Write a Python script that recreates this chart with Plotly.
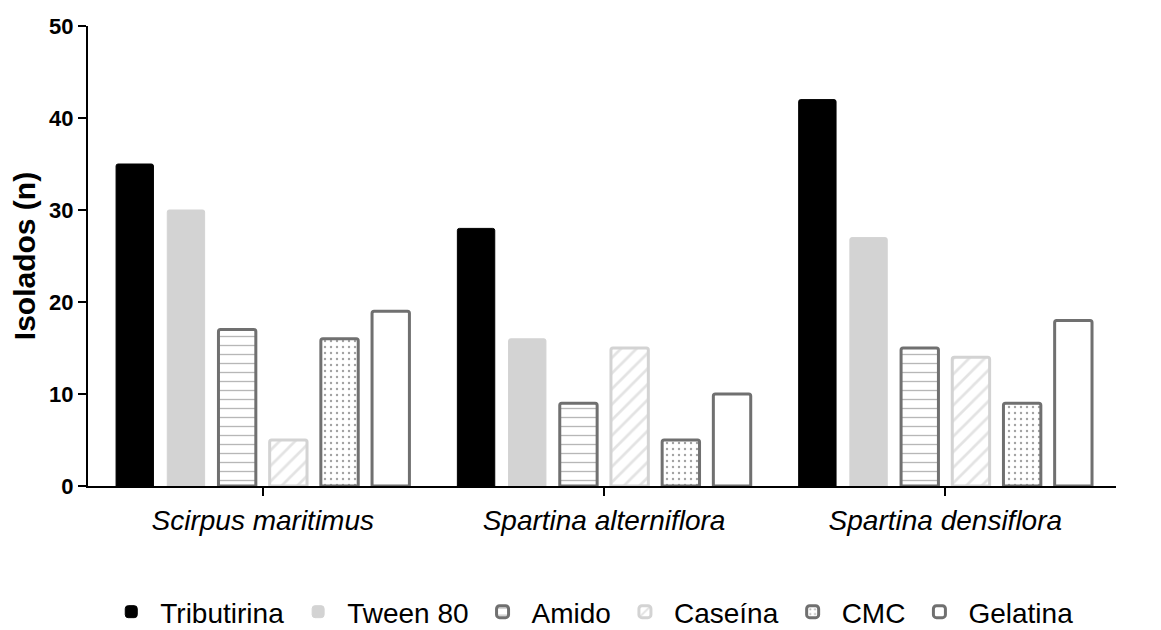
import plotly.graph_objects as go

categories = ["Scirpus maritimus", "Spartina alterniflora", "Spartina densiflora"]
tick_labels = ["<i>Scirpus maritimus</i>", "<i>Spartina alterniflora</i>", "<i>Spartina densiflora</i>"]
series_names = ["Tributirina", "Tween 80", "Amido", "Caseína", "CMC", "Gelatina"]
tributirina = [35, 28, 42]
tween80 = [30, 16, 27]
amido = [17, 9, 15]
caseina = [5, 15, 14]
cmc = [16, 5, 9]
gelatina = [19, 10, 18]
values = [tributirina, tween80, amido, caseina, cmc, gelatina]

GRAY = "#707070"
LIGHT = "#d3d3d3"
styles = [
    dict(color="black", line=dict(color="black", width=1)),
    dict(color=LIGHT, line=dict(color=LIGHT, width=1)),
    dict(color="white", line=dict(color=GRAY, width=3),
         pattern=dict(shape="-", fgcolor=GRAY, bgcolor="white", size=9, solidity=0.15)),
    dict(color="white", line=dict(color=LIGHT, width=3),
         pattern=dict(shape="/", fgcolor="#c8c8c8", bgcolor="white", size=11, solidity=0.25)),
    dict(color="white", line=dict(color=GRAY, width=3),
         pattern=dict(shape=".", fgcolor="#444444", bgcolor="white", size=6, solidity=0.12)),
    dict(color="white", line=dict(color=GRAY, width=3)),
]

fig = go.Figure()
for name, vals, st in zip(series_names, values, styles):
    fig.add_trace(go.Bar(x=categories, y=vals, name=name, marker=st))

FONT = "Arial, Liberation Sans, sans-serif"
fig.update_layout(
    width=1153, height=622,
    margin=dict(l=80, r=45, t=18, b=144, autoexpand=False),
    paper_bgcolor="white", plot_bgcolor="white",
    barmode="group", bargap=0.1, bargroupgap=0.27,
    barcornerradius=2,
    font=dict(family=FONT, color="black"),
    showlegend=True,
    legend=dict(orientation="h", xref="container", yref="container",
                x=0.505, xanchor="center", y=0.029, yanchor="middle",
                font=dict(size=28, family=FONT), itemwidth=48,
                traceorder="normal"),
)
fig.update_xaxes(
    tickmode="array", tickvals=categories, ticktext=tick_labels,
    range=[-0.512, 2.5],
    showline=True, linecolor="black", linewidth=2,
    ticks="outside", ticklen=8, tickwidth=2, tickcolor="black",
    tickfont=dict(size=28, family=FONT), showgrid=False, automargin=False,
    ticklabelstandoff=0,
)
fig.update_yaxes(
    range=[0, 50], tickvals=[0, 10, 20, 30, 40, 50],
    ticktext=["<b>0</b>", "<b>10</b>", "<b>20</b>", "<b>30</b>", "<b>40</b>", "<b>50</b>"],
    showline=True, linecolor="black", linewidth=2,
    ticks="outside", ticklen=8, tickwidth=2, tickcolor="black",
    tickfont=dict(size=22, family=FONT), showgrid=False, zeroline=False, automargin=False,
    title=dict(text="<b>Isolados (n)</b>", font=dict(size=30, family=FONT), standoff=10),
)

fig.write_html("out.html")
